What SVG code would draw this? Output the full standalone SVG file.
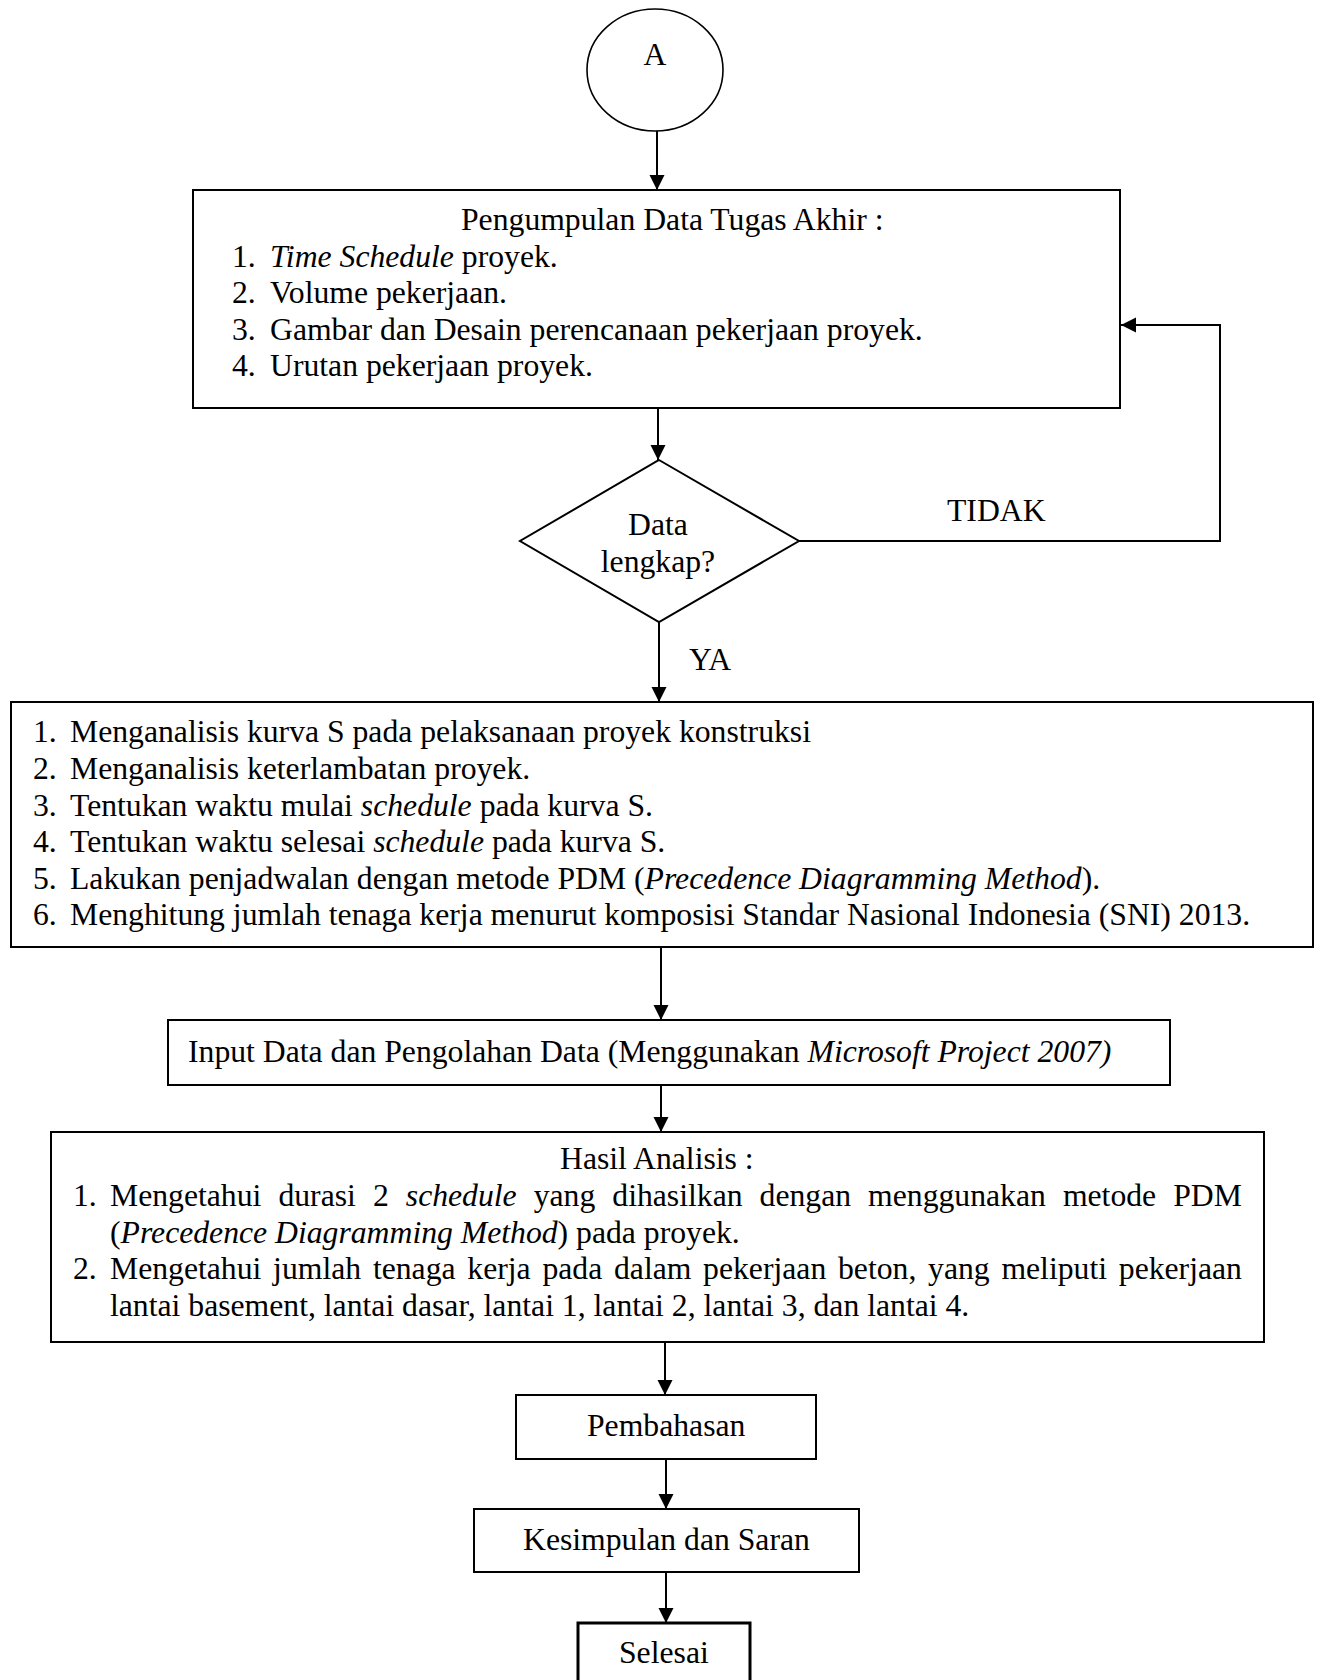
<svg xmlns="http://www.w3.org/2000/svg" width="1318" height="1680" viewBox="0 0 1318 1680">
<style>
text{font-family:"Liberation Serif","Times New Roman",serif;font-size:31.7px;fill:#000}
.i{font-style:italic}
.box{fill:#fff;stroke:#000;stroke-width:2}
.c{text-anchor:middle}
.con{fill:none;stroke:#000;stroke-width:2}
</style>
<defs>
<marker id="ah" markerUnits="userSpaceOnUse" markerWidth="16" markerHeight="16" refX="15" refY="7.5" orient="auto">
<path d="M0,0 L15,7.5 L0,15 Z" fill="#000"/>
</marker>
</defs>
<rect width="1318" height="1680" fill="#fff"/>

<g id="connectors">
<line class="con" x1="657" y1="131" x2="657" y2="190" marker-end="url(#ah)"/>
<line class="con" x1="658" y1="408" x2="658" y2="460" marker-end="url(#ah)"/>
<polyline class="con" points="799,541 1220,541 1220,325 1121,325" marker-end="url(#ah)"/>
<line class="con" x1="659" y1="622" x2="659" y2="702" marker-end="url(#ah)"/>
<line class="con" x1="661" y1="947" x2="661" y2="1020" marker-end="url(#ah)"/>
<line class="con" x1="661" y1="1085" x2="661" y2="1132" marker-end="url(#ah)"/>
<line class="con" x1="665" y1="1342" x2="665" y2="1395" marker-end="url(#ah)"/>
<line class="con" x1="666" y1="1459" x2="666" y2="1509" marker-end="url(#ah)"/>
<line class="con" x1="666" y1="1572" x2="666" y2="1623" marker-end="url(#ah)"/>
<text x="947" y="521">TIDAK</text>
<text x="689" y="670">YA</text>
</g>

<g id="start">
<ellipse cx="655" cy="70" rx="68" ry="61" fill="#fff" stroke="#000" stroke-width="1.6"/>
<text class="c" x="655" y="65">A</text>
</g>

<g id="pengumpulan">
<rect class="box" x="193" y="190" width="927" height="218"/>
<text x="461" y="230">Pengumpulan Data Tugas Akhir :</text>
<text x="232" y="267">1.</text><text x="270" y="267"><tspan class="i">Time Schedule</tspan> proyek.</text>
<text x="232" y="303">2.</text><text x="270" y="303">Volume pekerjaan.</text>
<text x="232" y="340">3.</text><text x="270" y="340">Gambar dan Desain perencanaan pekerjaan proyek.</text>
<text x="232" y="376">4.</text><text x="270" y="376">Urutan pekerjaan proyek.</text>
</g>

<g id="decision">
<polygon points="659,460 799,541 659,622 520,541" fill="#fff" stroke="#000" stroke-width="2"/>
<text class="c" x="658" y="535">Data</text>
<text class="c" x="658" y="572">lengkap?</text>
</g>

<g id="analisis">
<rect class="box" x="11" y="702" width="1302" height="245"/>
<text x="33" y="742">1.</text><text x="70" y="742">Menganalisis kurva S pada pelaksanaan proyek konstruksi</text>
<text x="33" y="779">2.</text><text x="70" y="779">Menganalisis keterlambatan proyek.</text>
<text x="33" y="816">3.</text><text x="70" y="816">Tentukan waktu mulai <tspan class="i">schedule</tspan> pada kurva S.</text>
<text x="33" y="852">4.</text><text x="70" y="852">Tentukan waktu selesai <tspan class="i">schedule</tspan> pada kurva S.</text>
<text x="33" y="889">5.</text><text x="70" y="889">Lakukan penjadwalan dengan metode PDM (<tspan class="i">Precedence Diagramming Method</tspan>).</text>
<text x="33" y="925">6.</text><text x="70" y="925">Menghitung jumlah tenaga kerja menurut komposisi Standar Nasional Indonesia (SNI) 2013.</text>
</g>

<g id="input">
<rect class="box" x="168" y="1020" width="1002" height="65"/>
<text x="188" y="1062">Input Data dan Pengolahan Data (Menggunakan <tspan class="i">Microsoft Project 2007)</tspan></text>
</g>

<g id="hasil">
<rect class="box" x="51" y="1132" width="1213" height="210"/>
<text x="560" y="1169">Hasil Analisis :</text>
<text x="73" y="1206">1.</text>
<text y="1206"><tspan x="110">Mengetahui </tspan><tspan x="278.4">durasi </tspan><tspan x="372.9">2 </tspan><tspan x="405.8" class="i">schedule </tspan><tspan x="533.7">yang </tspan><tspan x="612.3">dihasilkan </tspan><tspan x="759.6">dengan </tspan><tspan x="868.1">menggunakan </tspan><tspan x="1062.9">metode </tspan><tspan x="1173.2">PDM</tspan></text>
<text x="110" y="1243">(<tspan class="i">Precedence Diagramming Method</tspan>) pada proyek.</text>
<text x="73" y="1279">2.</text>
<text y="1279"><tspan x="110">Mengetahui </tspan><tspan x="273.1">jumlah </tspan><tspan x="372.9">tenaga </tspan><tspan x="467.3">kerja </tspan><tspan x="542.4">pada </tspan><tspan x="614">dalam </tspan><tspan x="703.1">pekerjaan </tspan><tspan x="838">beton, </tspan><tspan x="928.1">yang </tspan><tspan x="1001.4">meliputi </tspan><tspan x="1118.8">pekerjaan</tspan></text>
<text x="110" y="1316">lantai basement, lantai dasar, lantai 1, lantai 2, lantai 3, dan lantai 4.</text>
</g>

<g id="pembahasan">
<rect class="box" x="516" y="1395" width="300" height="64"/>
<text x="587" y="1436">Pembahasan</text>
</g>

<g id="kesimpulan">
<rect class="box" x="474" y="1509" width="385" height="63"/>
<text x="523" y="1550">Kesimpulan dan Saran</text>
</g>

<g id="selesai">
<rect x="578" y="1623" width="172" height="80" fill="#fff" stroke="#000" stroke-width="3"/>
<text x="619" y="1663">Selesai</text>
</g>
</svg>
